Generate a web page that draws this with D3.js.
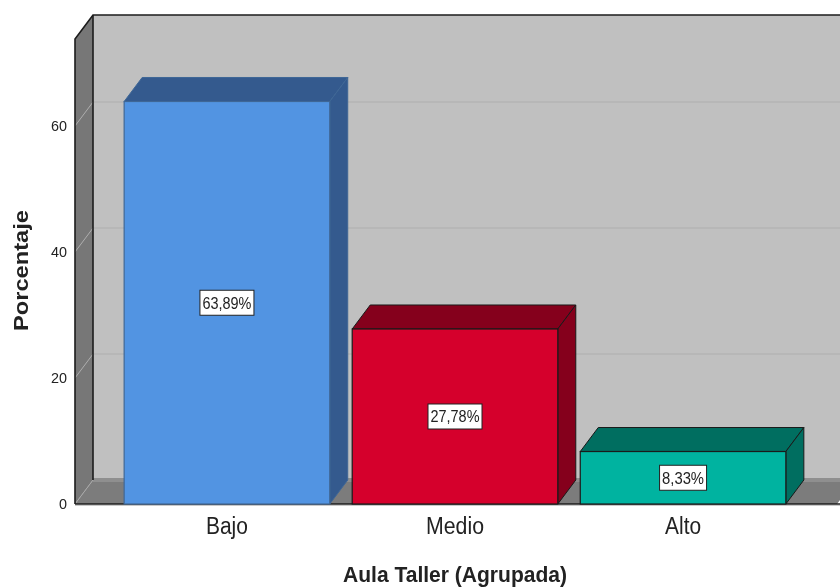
<!DOCTYPE html>
<html>
<head>
<meta charset="utf-8">
<script src="https://cdn.jsdelivr.net/npm/d3@7"></script>
<style>
html,body{margin:0;padding:0;background:#fff;overflow:hidden}
svg{display:block;filter:blur(0.35px)}
text{font-family:"Liberation Sans",Arial,sans-serif;fill:#222}
</style>
</head>
<body>
<svg id="chart" width="840" height="587"></svg>
<script>
const categories = ["Bajo", "Medio", "Alto"];
const values = [63.89, 27.78, 8.33];
const valueLabels = ["63,89%", "27,78%", "8,33%"];
const frontColors = ["#5294e2", "#d5002c", "#00b3a0"];
const topColors = ["#345a8e", "#85001c", "#006e60"];
const yTicks = [0, 20, 40, 60];
const xTitle = "Aula Taller (Agrupada)";
const yTitle = "Porcentaje";

const svg = d3.select("#chart");
const W = 840, H = 587;
const depthX = 18, depthY = -24;
const front = {l: 75, r: 837, b: 504, t: 39};

const y = d3.scaleLinear().domain([0, 73.81]).range([front.b, front.t]);
const x = d3.scaleBand().domain(categories).range([front.l, front.r - 2])
  .paddingInner(0.0985).paddingOuter(0.2155);

const poly = pts => pts.map(p => p.join(",")).join(" ");
const edge = "#1c1c1c";

// back wall
svg.append("rect").attr("x", front.l + depthX).attr("y", front.t + depthY)
  .attr("width", W).attr("height", front.b - front.t)
  .attr("fill", "#c0c0c0");

// floor
svg.append("polygon")
  .attr("points", poly([[front.l, front.b], [front.l + depthX, front.b + depthY], [front.r + depthX, front.b + depthY], [front.r, front.b]]))
  .attr("fill", "#7c7c7c");
svg.append("rect").attr("x", front.l + depthX).attr("y", front.b + depthY - 2)
  .attr("width", W).attr("height", 4).attr("fill", "#8f8f8f");

// side wall
svg.append("polygon")
  .attr("points", poly([[front.l, front.t], [front.l + depthX, front.t + depthY], [front.l + depthX, front.b + depthY], [front.l, front.b]]))
  .attr("fill", "#777777");

// gridlines
const grid = svg.append("g").attr("fill", "none").attr("stroke", "#aeaeae").attr("stroke-width", 1);
yTicks.filter(d => d > 0).forEach(d => {
  grid.append("polyline")
    .attr("points", poly([[front.l, y(d)], [front.l + depthX, y(d) + depthY], [W, y(d) + depthY]]));
});
svg.append("line")
  .attr("x1", front.l).attr("y1", front.b).attr("x2", front.l + depthX).attr("y2", front.b + depthY)
  .attr("stroke", "#a8a8a8");

// frame
const frame = svg.append("g").attr("fill", "none").attr("stroke", edge).attr("stroke-width", 1.6);
frame.append("polyline").attr("points", poly([[front.l, front.b], [front.l, front.t], [front.l + depthX, front.t + depthY], [W, front.t + depthY]]));
frame.append("line").attr("x1", front.l + depthX).attr("y1", front.t + depthY).attr("x2", front.l + depthX).attr("y2", front.b + depthY);

// floor right edge and baseline
frame.append("line").attr("x1", front.l).attr("y1", front.b).attr("x2", W).attr("y2", front.b);
svg.append("line").attr("x1", front.l).attr("y1", front.b + 1.5).attr("x2", W).attr("y2", front.b + 1.5).attr("stroke", "#c8c8c8");

// bars
const bars = svg.append("g").selectAll("g").data(categories).join("g");
const dataOf = i => ({x0: x(categories[i]), x1: x(categories[i]) + x.bandwidth(), yT: y(values[i]), yB: y(0)});
bars.each(function(c, i) {
  const g = d3.select(this), b = dataOf(i);
  const isFirst = i === 0;
  const stroke = isFirst ? "#3f6796" : "#1a1a1a";
  g.append("polygon")
    .attr("points", poly([[b.x0, b.yT], [b.x0 + depthX, b.yT + depthY], [b.x1 + depthX, b.yT + depthY], [b.x1, b.yT]]))
    .attr("fill", topColors[i]).attr("stroke", stroke).attr("stroke-width", 1);
  g.append("polygon")
    .attr("points", poly([[b.x1, b.yT], [b.x1 + depthX, b.yT + depthY], [b.x1 + depthX, b.yB + depthY], [b.x1, b.yB]]))
    .attr("fill", topColors[i]).attr("stroke", stroke).attr("stroke-width", 1);
  g.append("rect")
    .attr("x", b.x0).attr("y", b.yT).attr("width", b.x1 - b.x0).attr("height", b.yB - b.yT)
    .attr("fill", frontColors[i]).attr("stroke", stroke).attr("stroke-width", 1.2);
  const cx = (b.x0 + b.x1) / 2, cy = (b.yT + b.yB) / 2;
  const bw = i === 2 ? 47 : 54, bh = 25;
  g.append("rect")
    .attr("x", cx - bw / 2).attr("y", cy - bh / 2).attr("width", bw).attr("height", bh)
    .attr("fill", "#fff").attr("stroke", "#222").attr("stroke-width", 1);
  g.append("text").attr("x", cx).attr("y", cy + 6)
    .attr("text-anchor", "middle").attr("font-size", 16)
    .attr("textLength", bw - 5).attr("lengthAdjust", "spacingAndGlyphs")
    .text(valueLabels[i]);
});

// axes
const yAxis = svg.append("g").attr("transform", `translate(${front.l},0)`)
  .call(d3.axisLeft(y).tickValues(yTicks).tickSize(0).tickPadding(8).tickFormat(d3.format("d")));
yAxis.select(".domain").remove();
yAxis.selectAll("text").attr("font-size", 15).attr("textLength", d => d === 0 ? 8 : 16).attr("lengthAdjust", "spacingAndGlyphs")
  .style("font-family", '"Liberation Sans",Arial,sans-serif').attr("fill", "#222");

const labelWidths = {Bajo: 42, Medio: 58, Alto: 36};
const xAxis = svg.append("g").attr("transform", `translate(0,${front.b})`)
  .call(d3.axisBottom(x).tickSize(0).tickPadding(14));
xAxis.select(".domain").remove();
xAxis.selectAll("text").attr("font-size", 23).style("font-family", '"Liberation Sans",Arial,sans-serif').attr("fill", "#222")
  .attr("textLength", d => labelWidths[d]).attr("lengthAdjust", "spacingAndGlyphs");

// titles
svg.append("text").attr("x", 455).attr("y", 582)
  .attr("text-anchor", "middle").attr("font-size", 22).attr("font-weight", "bold")
  .attr("textLength", 224).attr("lengthAdjust", "spacingAndGlyphs").text(xTitle);
svg.append("text").attr("transform", "translate(28,270.5) rotate(-90)")
  .attr("text-anchor", "middle").attr("font-size", 20).attr("font-weight", "bold")
  .attr("textLength", 121).attr("lengthAdjust", "spacingAndGlyphs").text(yTitle);
</script>
</body>
</html>
